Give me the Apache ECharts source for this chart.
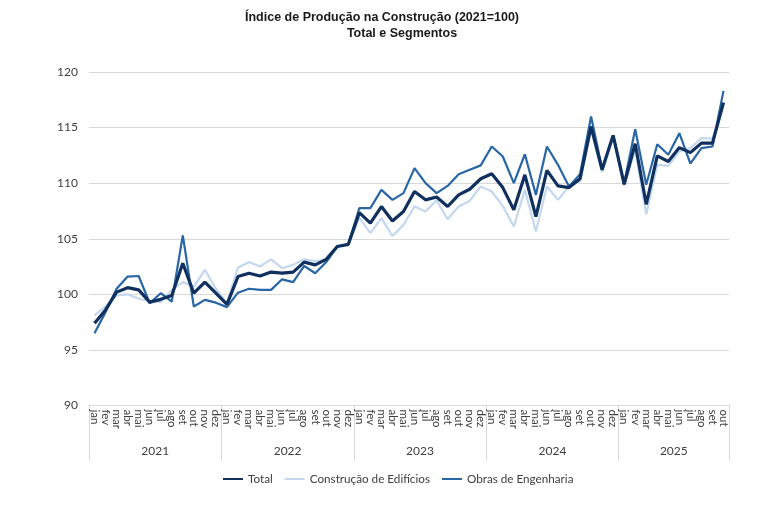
<!DOCTYPE html>
<html>

<head>
    <meta charset="utf-8" />
    <title>Índice de Produção na Construção</title>
    <script src="https://cdn.jsdelivr.net/npm/echarts@6/dist/echarts.min.js"></script>
    <style>
        html, body { margin: 0; padding: 0; background: #fff; }
        #chart { width: 768px; height: 514px; }
    </style>
</head>

<body>
    <div id="chart"></div>
    <script type="text/javascript">
        var monthNames = ['jan', 'fev', 'mar', 'abr', 'mai', 'jun', 'jul', 'ago', 'set', 'out', 'nov', 'dez'];
        var years = ['2021', '2022', '2023', '2024', '2025'];
        var monthsInYear = [12, 12, 12, 12, 10];

        var total = [
            97.4, 98.6, 100.2, 100.6, 100.4, 99.3, 99.55, 99.9, 102.8, 100.1, 101.1, 100.1,
            99.1, 101.6, 101.9, 101.65, 102.0, 101.9, 102.0, 102.9, 102.65, 103.15, 104.3, 104.5,
            107.35, 106.4, 107.9, 106.6, 107.45, 109.25, 108.5, 108.75, 107.9, 108.95, 109.45, 110.4,
            110.85, 109.6, 107.6, 110.75, 107.0, 111.15, 109.75, 109.6, 110.4, 115.1, 111.2, 114.3,
            109.9, 113.55, 108.1, 112.45, 111.95, 113.2, 112.75, 113.6, 113.6, 117.25
        ];
        var edificios = [
            98.1, 98.9, 99.9, 100.0, 99.6, 99.4, 99.3, 100.4, 101.1, 100.7, 102.2, 100.5,
            99.2, 102.4, 102.9, 102.5, 103.15, 102.35, 102.65, 103.15, 103.0, 103.1, 104.3, 104.5,
            106.9, 105.5, 106.85, 105.25, 106.25, 107.9, 107.45, 108.45, 106.75, 107.9, 108.4, 109.7,
            109.25, 107.95, 106.1, 109.4, 105.65, 109.7, 108.5, 109.7, 110.2, 114.8, 111.0, 114.3,
            109.8, 113.0, 107.2, 111.65, 111.55, 112.85, 113.15, 114.05, 114.0, 117.05
        ];
        var engenharia = [
            96.5, 98.4, 100.5, 101.6, 101.65, 99.2, 100.1, 99.35, 105.3, 98.9, 99.5, 99.25,
            98.85, 100.15, 100.5, 100.4, 100.4, 101.35, 101.1, 102.55, 101.9, 102.9, 104.3, 104.5,
            107.75, 107.75, 109.4, 108.5, 109.1, 111.35, 110.0, 109.1, 109.75, 110.8, 111.2, 111.6,
            113.3, 112.4, 110.0, 112.6, 108.95, 113.3, 111.65, 109.7, 110.8, 116.0, 111.3, 114.3,
            110.0, 114.85, 109.85, 113.5, 112.55, 114.5, 111.75, 113.15, 113.3, 118.3
        ];

        // categorias mensais + índice onde fica o rótulo do ano
        var categories = [];
        var yearAt = {};
        for (var y = 0; y < years.length; y++) {
            var start = categories.length;
            for (var m = 0; m < monthsInYear[y]; m++) {
                categories.push(monthNames[m]);
            }
            yearAt[start + Math.floor(monthsInYear[y] / 2) - 1] = years[y];
        }

        var labelFont = 'Lato';
        var gridColor = '#d9d9d9';

        var chart = echarts.init(document.getElementById('chart'));
        var option = {
            animation: false,
            title: [{
                text: 'Índice de Produção na Construção (2021=100)',
                left: 377,
                top: 6,
                textAlign: 'center',
                textStyle: { fontFamily: 'Liberation Sans', fontSize: 12.5, fontWeight: 'bold', color: '#1a1a1a' }
            }, {
                text: 'Total e Segmentos',
                left: 397,
                top: 22,
                textAlign: 'center',
                textStyle: { fontFamily: 'Liberation Sans', fontSize: 12.5, fontWeight: 'bold', color: '#1a1a1a' }
            }],
            legend: {
                left: 218,
                top: 468,
                itemWidth: 20,
                itemHeight: 10,
                itemGap: 12,
                icon: 'path://M0,4 L20,4 L20,6 L0,6 Z',
                textStyle: { fontFamily: labelFont, fontSize: 11.7, color: '#404040' },
                data: ['Total', 'Construção de Edifícios', 'Obras de Engenharia']
            },
            grid: {
                left: 89,
                right: 39,
                top: 72,
                bottom: 108.5
            },
            xAxis: [{
                type: 'category',
                data: categories,
                boundaryGap: true,
                axisLine: { lineStyle: { color: gridColor } },
                axisTick: { show: false },
                axisLabel: {
                    interval: 0,
                    rotate: -90,
                    margin: 4,
                    fontFamily: labelFont,
                    fontSize: 11.5,
                    color: '#404040'
                }
            }, {
                type: 'category',
                data: categories,
                position: 'bottom',
                boundaryGap: true,
                axisLine: { show: false },
                axisTick: {
                    show: true,
                    length: 55,
                    interval: function (index) { return index % 12 === 0; },
                    lineStyle: { color: gridColor }
                },
                axisLabel: {
                    interval: function (index) { return yearAt[index] !== undefined; },
                    margin: 40,
                    formatter: function (value, index) { return '{y|' + (yearAt[index] || '') + '}'; },
                    rich: {
                        y: { padding: [0, 0, 0, 11], fontFamily: labelFont, fontSize: 12, color: '#404040' }
                    }
                }
            }],
            yAxis: {
                type: 'value',
                min: 90,
                max: 120,
                interval: 5,
                axisLine: { show: false },
                axisTick: { show: false },
                axisLabel: { margin: 11, fontFamily: labelFont, fontSize: 12, color: '#404040' },
                splitLine: { lineStyle: { color: gridColor } }
            },
            series: [{
                name: 'Total',
                type: 'line',
                data: total,
                symbol: 'none',
                color: '#10305f',
                lineStyle: { width: 3.2, color: '#10305f' },
                z: 3
            }, {
                name: 'Construção de Edifícios',
                type: 'line',
                data: edificios,
                symbol: 'none',
                color: '#c3d8ee',
                lineStyle: { width: 2.2, color: '#c3d8ee' },
                z: 2
            }, {
                name: 'Obras de Engenharia',
                type: 'line',
                data: engenharia,
                symbol: 'none',
                color: '#2866a6',
                lineStyle: { width: 2.2, color: '#2866a6' },
                z: 2
            }]
        };
        chart.setOption(option);
    </script>
</body>

</html>
